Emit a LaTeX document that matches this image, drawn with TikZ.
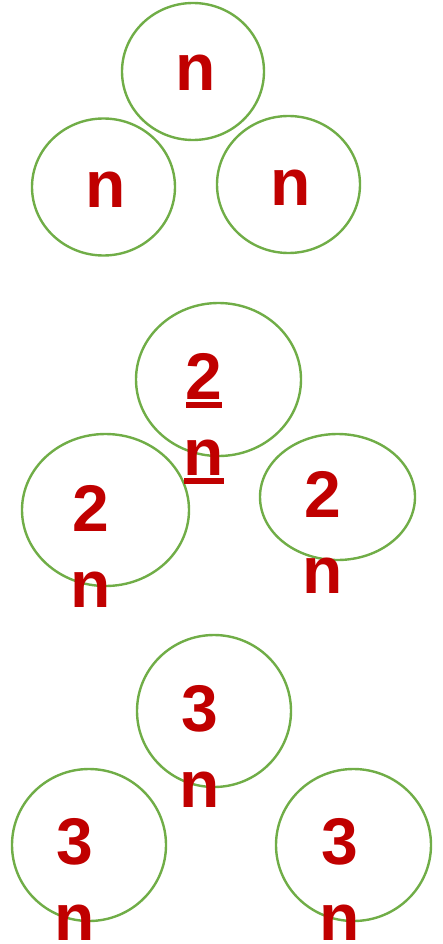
\documentclass[tikz,border=0pt]{standalone}
\usepackage{fontspec}
\setmainfont{Liberation Sans}
\usetikzlibrary{shapes.geometric}
\definecolor{ringgreen}{HTML}{70AD47}
\definecolor{labred}{HTML}{C00000}
\newcommand\ulbar[1]{\setbox0\hbox{#1}\rlap{\raisebox{-8.5pt}{\rule{\wd0}{5.5pt}}}\box0}
\tikzset{
  ring/.style={draw=ringgreen, line width=2.4pt, ellipse, inner sep=0pt},
  lab/.style={text=labred, font=\fontsize{66}{76}\selectfont\bfseries, inner sep=0pt, align=center, anchor=base}
}
\begin{document}
\begin{tikzpicture}[x=1pt,y=-1pt]
\useasboundingbox (0,0) rectangle (442,944);
% top group
\node[ring, minimum width=142pt, minimum height=137pt] (c1) at (193,71.5) {};
\node[ring, minimum width=143pt, minimum height=137pt] (c2) at (103.5,187) {};
\node[ring, minimum width=143pt, minimum height=137pt] (c3) at (288.5,184.5) {};
\node[lab] (t1) at (195.5,91) {n};
\node[lab] (t2) at (105.5,207) {n};
\node[lab] (t3) at (291,205) {n};
% middle group
\node[ring, minimum width=165pt, minimum height=153pt] (c4) at (218.5,379.5) {};
\node[ring, minimum width=167pt, minimum height=152pt] (c5) at (105.5,510) {};
\node[ring, minimum width=155pt, minimum height=126pt] (c6) at (337.5,497) {};
\node[lab] (t4) at (204,475) {\ulbar{2}\\\ulbar{n}};
\node[lab] (t5) at (91,607) {2\\n};
\node[lab] (t6) at (323,593) {2\\n};
% bottom group
\node[ring, minimum width=154pt, minimum height=152pt] (c7) at (214,711) {};
\node[ring, minimum width=154pt, minimum height=152pt] (c8) at (89,845) {};
\node[ring, minimum width=155pt, minimum height=152pt] (c9) at (353.5,845) {};
\node[lab] (t7) at (199.5,807) {3\\n};
\node[lab] (t8) at (75,940) {3\\n};
\node[lab] (t9) at (339.5,940) {3\\n};
\end{tikzpicture}
\end{document}
